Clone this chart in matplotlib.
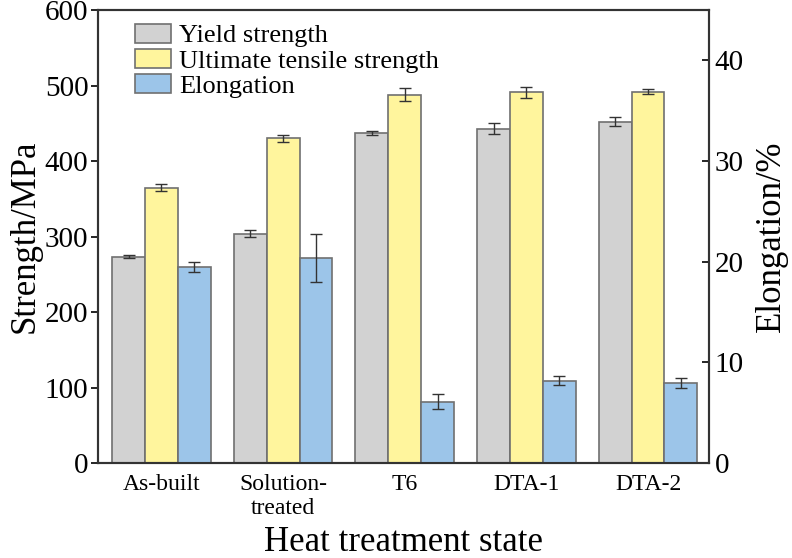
import numpy as np
import matplotlib.pyplot as plt
from matplotlib.patches import Patch

plt.rcParams['font.family'] = ['Liberation Serif', 'DejaVu Serif']

# data
states = ['As-built', 'Solution-\ntreated', 'T6', 'DTA-1', 'DTA-2']
yield_str = [273, 304, 437, 443, 452]
yield_err = [2, 5, 3, 7, 6]
uts = [365, 430, 488, 491, 492]
uts_err = [4, 5, 9, 7, 3]
elong = [19.5, 20.4, 6.1, 8.2, 8.0]
elong_err = [0.5, 2.4, 0.75, 0.45, 0.5]

c_ys = '#d2d2d2'
c_uts = '#fff59d'
c_el = '#9cc5e9'
edge = '#707070'

x = np.arange(len(states))
w = 0.27

fig = plt.figure(figsize=(7.92, 5.58), dpi=100)
ax = fig.add_axes([0.124, 0.170, 0.771, 0.812])
ax2 = ax.twinx()

ekw = dict(elinewidth=1, capsize=4, capthick=1, ecolor='#333333')
ax.bar(x - w, yield_str, w, yerr=yield_err, color=c_ys, edgecolor=edge,
       linewidth=1.2, error_kw=ekw, zorder=2)
ax.bar(x, uts, w, yerr=uts_err, color=c_uts, edgecolor=edge,
       linewidth=1.2, error_kw=ekw, zorder=2)
ax2.bar(x + w, elong, w, yerr=elong_err, color=c_el, edgecolor=edge,
        linewidth=1.2, error_kw=ekw, zorder=2)

ax.set_xlim(-0.52, 4.5)
ax.set_ylim(0, 600)
ax2.set_ylim(0, 45)
ax.set_yticks([0, 100, 200, 300, 400, 500, 600])
ax2.set_yticks([0, 10, 20, 30, 40])

ax.set_xticks(x)
ax.set_xticklabels(states, fontsize=17, linespacing=1.15)
ax.tick_params(axis='x', length=0, pad=8)
ax.tick_params(axis='y', labelsize=21, direction='out', length=5, width=1.2, pad=2)
ax2.tick_params(axis='y', labelsize=21, direction='in', length=5, width=1.2, pad=4)

for a in (ax, ax2):
    for s in a.spines.values():
        s.set_linewidth(1.5)
        s.set_color('#333333')

ax.set_ylabel('Strength/MPa', fontsize=25, labelpad=2)
ax2.set_ylabel('Elongation/%', fontsize=25, labelpad=8)
ax.set_xlabel('Heat treatment state', fontsize=25, labelpad=5)

handles = [Patch(facecolor=c_ys, edgecolor=edge, linewidth=1.2),
           Patch(facecolor=c_uts, edgecolor=edge, linewidth=1.2),
           Patch(facecolor=c_el, edgecolor=edge, linewidth=1.2)]
ax2.legend(handles, ['Yield strength', 'Ultimate tensile strength', 'Elongation'],
           loc='upper left', bbox_to_anchor=(0.035, 1.005), frameon=False,
           fontsize=19, handlelength=1.35, handleheight=0.75, labelspacing=0.05,
           handletextpad=0.3, borderaxespad=0.2)

fig.savefig('out.png', dpi=100)
